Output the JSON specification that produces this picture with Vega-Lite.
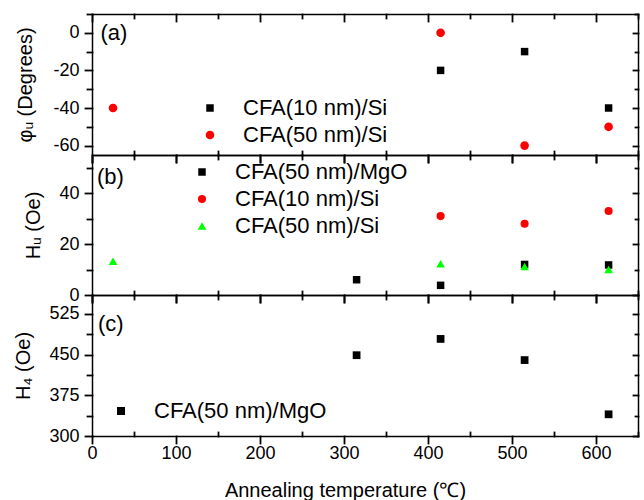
{
  "$schema": "https://vega.github.io/schema/vega-lite/v6.json",
  "background": "white",
  "padding": {"left": 13, "top": 12, "right": 4, "bottom": 2},
  "spacing": 0,
  "bounds": "flush",
  "resolve": {"scale": {"color": "independent", "shape": "independent", "size": "independent"}, "legend": {"color": "independent", "shape": "independent", "size": "independent"}},
  "config": {
    "font": "Liberation Sans",
    "view": {"stroke": null},
    "axis": {
      "grid": false,
      "ticks": true,
      "domainColor": "#000000",
      "domainWidth": 1.5,
      "tickColor": "#000000",
      "tickWidth": 1.8,
      "tickCap": "square",
      "tickOpacity": 1,
      "labelColor": "black",
      "labelFont": "Liberation Sans",
      "labelFontSize": 18,
      "labelPadding": 6,
      "titleFont": "Liberation Sans",
      "titleFontSize": 20,
      "titleFontWeight": "normal",
      "titleColor": "black",
      "titlePadding": 15,
      "labelOverlap": false,
      "labelFlush": false
    },
    "legend": {
      "orient": "none",
      "title": null,
      "labelFont": "Liberation Sans",
      "labelFontSize": 22,
      "labelColor": "black",
      "labelOffset": 22,
      "labelLimit": 0,
      "symbolSize": 64,
      "symbolStrokeWidth": 0,
      "rowPadding": 5,
      "padding": 0
    }
  },
  "datasets": {
    "a": [
      {"x": 415, "y": -20, "s": "CFA(10 nm)/Si"},
      {"x": 515, "y": -10, "s": "CFA(10 nm)/Si"},
      {"x": 615, "y": -40, "s": "CFA(10 nm)/Si"},
      {"x": 25, "y": -40, "s": "CFA(50 nm)/Si"},
      {"x": 415, "y": 0, "s": "CFA(50 nm)/Si"},
      {"x": 515, "y": -60, "s": "CFA(50 nm)/Si"},
      {"x": 615, "y": -50, "s": "CFA(50 nm)/Si"}
    ],
    "b": [
      {"x": 315, "y": 6, "s": "CFA(50 nm)/MgO"},
      {"x": 415, "y": 3.8, "s": "CFA(50 nm)/MgO"},
      {"x": 515, "y": 12, "s": "CFA(50 nm)/MgO"},
      {"x": 615, "y": 11.8, "s": "CFA(50 nm)/MgO"},
      {"x": 415, "y": 31, "s": "CFA(10 nm)/Si"},
      {"x": 515, "y": 28, "s": "CFA(10 nm)/Si"},
      {"x": 615, "y": 33, "s": "CFA(10 nm)/Si"},
      {"x": 25, "y": 13.3, "s": "CFA(50 nm)/Si"},
      {"x": 415, "y": 12.3, "s": "CFA(50 nm)/Si"},
      {"x": 515, "y": 11.2, "s": "CFA(50 nm)/Si"},
      {"x": 615, "y": 10, "s": "CFA(50 nm)/Si"}
    ],
    "c": [
      {"x": 315, "y": 449, "s": "CFA(50 nm)/MgO"},
      {"x": 415, "y": 479, "s": "CFA(50 nm)/MgO"},
      {"x": 515, "y": 440, "s": "CFA(50 nm)/MgO"},
      {"x": 615, "y": 340, "s": "CFA(50 nm)/MgO"}
    ],
    "one": [{}]
  },
  "vconcat": [
    {
      "width": 546,
      "height": 141,
      "resolve": {"axis": {"x": "independent", "y": "independent"}},
      "layer": [
        {
          "data": {"name": "a"},
          "mark": {"type": "point", "filled": true, "opacity": 1},
          "encoding": {
            "x": {"field": "x", "type": "quantitative",
              "scale": {"domain": [0, 650], "nice": false, "zero": false},
              "axis": {"orient": "bottom", "title": null, "labels": false, "ticks": true,
                "values": [0, 100, 200, 300, 400, 500, 600], "tickSize": 7}},
            "y": {"field": "y", "type": "quantitative",
              "scale": {"domain": [-65, 10], "nice": false, "zero": false},
              "axis": {"orient": "left", "title": "φᵤ (Degrees)", "titlePadding": 17, "ticks": true,
                "values": [-60, -40, -20, 0],
                "labelExpr": "'' + datum.value", "tickSize": 7}},
            "color": {"field": "s", "type": "nominal",
              "scale": {"domain": ["CFA(10 nm)/Si", "CFA(50 nm)/Si"], "range": ["#000000", "#ff0000"]},
              "legend": {"legendX": 107, "legendY": 83}},
            "shape": {"field": "s", "type": "nominal",
              "scale": {"domain": ["CFA(10 nm)/Si", "CFA(50 nm)/Si"], "range": ["square", "circle"]},
              "legend": {"legendX": 107, "legendY": 83}},
            "size": {"field": "s", "type": "nominal",
              "scale": {"domain": ["CFA(10 nm)/Si", "CFA(50 nm)/Si"], "range": [56, 75]},
              "legend": {"legendX": 107, "legendY": 83}}
          }
        },
        {
          "data": {"name": "one"},
          "mark": {"type": "text", "text": "(a)", "align": "left", "baseline": "middle", "fontSize": 22, "font": "Liberation Sans", "color": "black"},
          "encoding": {
            "x": {"datum": 10, "type": "quantitative",
              "axis": {"orient": "top", "title": null, "labels": false, "ticks": true,
                "values": [0, 100, 200, 300, 400, 500, 600], "tickSize": -7}},
            "y": {"datum": 0, "type": "quantitative",
              "axis": {"orient": "right", "title": null, "labels": false, "ticks": true,
                "values": [-60, -40, -20, 0], "tickSize": -5}}
          }
        },
        {
          "data": {"name": "one"},
          "mark": {"type": "text", "text": ""},
          "encoding": {
            "x": {"datum": 0, "type": "quantitative",
              "axis": {"orient": "bottom", "title": null, "labels": false, "domain": false, "ticks": true,
                "values": [50, 150, 250, 350, 450, 550, 650], "tickSize": -4}},
            "y": {"datum": 0, "type": "quantitative",
              "axis": {"orient": "left", "title": null, "labels": false, "domain": false, "ticks": true,
                "values": [-50, -30, -10, 10], "tickSize": 5}}
          }
        },
        {
          "data": {"name": "one"},
          "mark": {"type": "text", "text": ""},
          "encoding": {
            "x": {"datum": 0, "type": "quantitative",
              "axis": {"orient": "top", "title": null, "labels": false, "domain": false, "ticks": true,
                "values": [50, 150, 250, 350, 450, 550, 650], "tickSize": -4}},
            "y": {"datum": 0, "type": "quantitative",
              "axis": {"orient": "right", "title": null, "labels": false, "domain": false, "ticks": true,
                "values": [-50, -30, -10, 10], "tickSize": -3}}
          }
        }
      ]
    },
    {
      "width": 546,
      "height": 140,
      "resolve": {"axis": {"x": "independent", "y": "independent"}},
      "layer": [
        {
          "data": {"name": "b"},
          "mark": {"type": "point", "filled": true, "opacity": 1},
          "encoding": {
            "x": {"field": "x", "type": "quantitative",
              "scale": {"domain": [0, 650], "nice": false, "zero": false},
              "axis": {"orient": "bottom", "title": null, "labels": false, "ticks": true,
                "values": [0, 100, 200, 300, 400, 500, 600], "tickSize": 7}},
            "y": {"field": "y", "type": "quantitative",
              "scale": {"domain": [0, 55], "nice": false, "zero": false},
              "axis": {"orient": "left", "title": "Hᵤ (Oe)", "ticks": true,
                "values": [0, 20, 40], "labelExpr": "'' + datum.value", "tickSize": 7}},
            "color": {"field": "s", "type": "nominal",
              "scale": {"domain": ["CFA(50 nm)/MgO", "CFA(10 nm)/Si", "CFA(50 nm)/Si"], "range": ["#000000", "#ff0000", "#00ff00"]},
              "legend": {"legendX": 99, "legendY": 6}},
            "shape": {"field": "s", "type": "nominal",
              "scale": {"domain": ["CFA(50 nm)/MgO", "CFA(10 nm)/Si", "CFA(50 nm)/Si"], "range": ["square", "circle", "triangle-up"]},
              "legend": {"legendX": 99, "legendY": 6}},
            "size": {"field": "s", "type": "nominal",
              "scale": {"domain": ["CFA(50 nm)/MgO", "CFA(10 nm)/Si", "CFA(50 nm)/Si"], "range": [56, 75, 135]},
              "legend": {"legendX": 99, "legendY": 6}}
          }
        },
        {
          "data": {"name": "one"},
          "mark": {"type": "text", "text": "(b)", "align": "left", "baseline": "middle", "fontSize": 22, "font": "Liberation Sans", "color": "black"},
          "encoding": {
            "x": {"datum": 6, "type": "quantitative",
              "axis": {"orient": "top", "title": null, "labels": false, "ticks": true,
                "values": [0, 100, 200, 300, 400, 500, 600], "tickSize": -7}},
            "y": {"datum": 46.4, "type": "quantitative",
              "axis": {"orient": "right", "title": null, "labels": false, "ticks": true,
                "values": [0, 20, 40], "tickSize": -5}}
          }
        },
        {
          "data": {"name": "one"},
          "mark": {"type": "text", "text": ""},
          "encoding": {
            "x": {"datum": 0, "type": "quantitative",
              "axis": {"orient": "bottom", "title": null, "labels": false, "domain": false, "ticks": true,
                "values": [50, 150, 250, 350, 450, 550, 650], "tickSize": -4}},
            "y": {"datum": 0, "type": "quantitative",
              "axis": {"orient": "left", "title": null, "labels": false, "domain": false, "ticks": true,
                "values": [10, 30, 50], "tickSize": 5}}
          }
        },
        {
          "data": {"name": "one"},
          "mark": {"type": "text", "text": ""},
          "encoding": {
            "x": {"datum": 0, "type": "quantitative",
              "axis": {"orient": "top", "title": null, "labels": false, "domain": false, "ticks": true,
                "values": [50, 150, 250, 350, 450, 550, 650], "tickSize": -4}},
            "y": {"datum": 0, "type": "quantitative",
              "axis": {"orient": "right", "title": null, "labels": false, "domain": false, "ticks": true,
                "values": [10, 30, 50], "tickSize": -3}}
          }
        }
      ]
    },
    {
      "width": 546,
      "height": 141,
      "resolve": {"axis": {"x": "independent", "y": "independent"}},
      "layer": [
        {
          "data": {"name": "c"},
          "mark": {"type": "point", "filled": true, "opacity": 1, "size": 60},
          "encoding": {
            "x": {"field": "x", "type": "quantitative",
              "scale": {"domain": [0, 650], "nice": false, "zero": false},
              "axis": {"orient": "bottom", "title": "Annealing temperature (℃)", "ticks": true,
                "values": [0, 100, 200, 300, 400, 500, 600], "labelExpr": "'' + datum.value",
                "labelPadding": 1, "titlePadding": 18, "titleX": 253, "tickSize": 7}},
            "y": {"field": "y", "type": "quantitative",
              "scale": {"domain": [300, 560], "nice": false, "zero": false},
              "axis": {"orient": "left", "title": "H₄ (Oe)", "ticks": true,
                "values": [300, 375, 450, 525], "labelExpr": "'' + datum.value", "tickSize": 7}},
            "color": {"field": "s", "type": "nominal",
              "scale": {"domain": ["CFA(50 nm)/MgO"], "range": ["#000000"]},
              "legend": {"legendX": 18, "legendY": 105}},
            "shape": {"field": "s", "type": "nominal",
              "scale": {"domain": ["CFA(50 nm)/MgO"], "range": ["square"]},
              "legend": {"legendX": 18, "legendY": 105}}
          }
        },
        {
          "data": {"name": "one"},
          "mark": {"type": "text", "text": "(c)", "align": "left", "baseline": "middle", "fontSize": 22, "font": "Liberation Sans", "color": "black"},
          "encoding": {
            "x": {"datum": 7, "type": "quantitative",
              "axis": {"orient": "top", "title": null, "labels": false, "ticks": true,
                "values": [0, 100, 200, 300, 400, 500, 600], "tickSize": -7}},
            "y": {"datum": 506.6, "type": "quantitative",
              "axis": {"orient": "right", "title": null, "labels": false, "ticks": true,
                "values": [300, 375, 450, 525], "tickSize": -5}}
          }
        },
        {
          "data": {"name": "one"},
          "mark": {"type": "text", "text": ""},
          "encoding": {
            "x": {"datum": 0, "type": "quantitative",
              "axis": {"orient": "bottom", "title": null, "labels": false, "domain": false, "ticks": true,
                "values": [50, 150, 250, 350, 450, 550, 650], "tickSize": -4}},
            "y": {"datum": 300, "type": "quantitative",
              "axis": {"orient": "left", "title": null, "labels": false, "domain": false, "ticks": true,
                "values": [337.5, 412.5, 487.5], "tickSize": 5}}
          }
        },
        {
          "data": {"name": "one"},
          "mark": {"type": "text", "text": ""},
          "encoding": {
            "x": {"datum": 0, "type": "quantitative",
              "axis": {"orient": "top", "title": null, "labels": false, "domain": false, "ticks": true,
                "values": [50, 150, 250, 350, 450, 550, 650], "tickSize": -4}},
            "y": {"datum": 300, "type": "quantitative",
              "axis": {"orient": "right", "title": null, "labels": false, "domain": false, "ticks": true,
                "values": [337.5, 412.5, 487.5], "tickSize": -3}}
          }
        }
      ]
    }
  ]
}
